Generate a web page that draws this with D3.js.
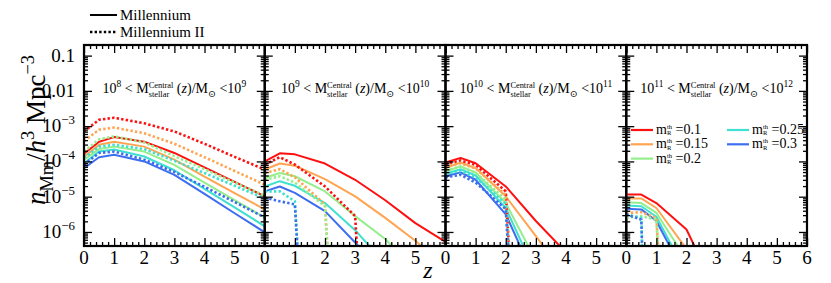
<!DOCTYPE html>
<html>
<head>
<meta charset="utf-8">
<script src="https://cdn.jsdelivr.net/npm/d3@7"></script>
<style>
  body { margin: 0; background: #fff; }
  text { font-family: "Liberation Serif", "DejaVu Serif", serif; fill: #000; white-space: pre; }
</style>
</head>
<body>
<svg width="831" height="283"></svg>
<script>
// redshift grid of the curves
const zGrid = [0, 0.5, 1, 2, 3, 4, 5, 6];
const thresholds = ["0.1", "0.15", "0.2", "0.25", "0.3"];
const colors = ["#ff1010", "#ffa552", "#94ee8c", "#3fe0d0", "#3d6ef0"];
const massBins = [[8, 9], [9, 10], [10, 11], [11, 12]];

// log10 of n, Millennium (solid), rows follow thresholds
const msLog = [
  [ // 1e8 - 1e9
    [-3.78, -3.44, -3.31, -3.44, -3.76, -4.17, -4.58, -4.99],
    [-3.87, -3.53, -3.44, -3.58, -3.95, -4.43, -4.90, -5.36],
    [-3.95, -3.65, -3.58, -3.72, -4.10, -4.60, -5.10, -5.59],
    [-4.05, -3.72, -3.66, -3.86, -4.25, -4.78, -5.30, -5.84],
    [-4.19, -3.88, -3.81, -4.00, -4.38, -4.92, -5.47, -6.01]
  ],
  [ // 1e9 - 1e10
    [-4.00, -3.77, -3.80, -4.06, -4.52, -5.10, -5.75, -6.28],
    [-4.23, -4.06, -4.12, -4.50, -4.99, -5.60, -6.25, -7.00],
    [-4.47, -4.33, -4.42, -4.85, -5.55, -6.20, -7.10, -7.90],
    [-4.71, -4.56, -4.69, -5.18, -5.95, -6.90, -7.60],
    [-4.85, -4.71, -4.89, -5.41, -6.30, -7.20]
  ],
  [ // 1e10 - 1e11
    [-4.03, -3.90, -4.05, -4.71, -5.69, -6.58, -7.50],
    [-4.19, -4.03, -4.19, -4.99, -6.12, -7.25],
    [-4.28, -4.14, -4.31, -5.18, -6.81, -8.00],
    [-4.35, -4.22, -4.40, -5.32, -7.18],
    [-4.42, -4.31, -4.52, -5.50, -7.38]
  ],
  [ // 1e11 - 1e12
    [-4.94, -4.94, -5.18, -5.93, -7.70],
    [-5.05, -5.05, -5.32, -6.48, -7.80],
    [-5.16, -5.18, -5.46, -6.78],
    [-5.25, -5.27, -5.57, -7.17],
    [-5.34, -5.36, -5.69, -7.30]
  ]
];

// log10 of n, Millennium II (dotted); null = no pairs left
const ms2Log = [
  [
    [-3.15, -2.82, -2.76, -2.92, -3.15, -3.50, -3.87, -4.23],
    [-3.42, -3.10, -3.04, -3.20, -3.50, -3.88, -4.27, -4.66],
    [-3.72, -3.37, -3.29, -3.46, -3.85, -4.22, -4.60, -4.97],
    [-3.90, -3.58, -3.53, -3.65, -3.98, -4.33, -4.69, -5.05],
    [-4.09, -3.76, -3.72, -3.95, -4.30, -4.72, -5.15, -5.59]
  ],
  [
    [-4.09, -3.88, -4.09, -4.71, -5.55, null],
    [-4.33, -4.22, -4.45, -5.22, null],
    [-4.52, -4.42, -4.60, -5.27, null],
    [-4.85, -4.85, -5.13, null],
    [-5.03, -5.13, -5.22, null]
  ],
  [
    [-4.08, -3.97, -4.10, -4.85, null],
    [-4.15, -4.05, -4.20, -4.95, null],
    [-4.25, -4.15, -4.32, -5.08, null],
    [-4.35, -4.27, -4.45, -5.20, null],
    [-4.45, -4.38, -4.60, -5.35, null]
  ],
  [
    [],
    [-5.46, -5.44, -5.60, null],
    [-5.60, -5.55, -5.65, null],
    [-5.50, -5.60, null],
    [-5.50, -5.65, null]
  ]
];

const yMajor = [0.1, 0.01, 1e-3, 1e-4, 1e-5, 1e-6];
const yMajorLabels = [["0.1"], ["0.01"], ["10", "−3"], ["10", "−4"], ["10", "−5"], ["10", "−6"]];
const xMajor = [0, 1, 2, 3, 4, 5, 6];
const xLabelMax = [5, 5, 5, 6];

const svg = d3.select("svg");
const plotTop = 45, plotBottom = 246, plotLeft = 84, plotRight = 807;
const pw = (plotRight - plotLeft) / 4;

const y = d3.scaleLog().domain([4e-7, 0.2]).range([plotBottom, plotTop]);
const yMinor = [];
for (let k = -7; k <= -1; k++) for (let m = 2; m <= 9; m++) {
  const v = m * Math.pow(10, k);
  if (v > 4e-7 && v < 0.2) yMinor.push(v);
}
const xMinor = d3.range(0, 6.001, 0.2).filter(v => Math.abs(v - Math.round(v)) > 1e-6);

// text with super/subscripts, laid out piece by piece
function rich(g, x, yy, parts, size, anchor, rot, st) {
  st = st || { fs: 0.6, up: 0.36, dn: 0.32 };
  const outer = g.append("g").attr("transform", `translate(${x},${yy}) rotate(${rot || 0})`);
  const t = outer.append("g");
  let cx = 0;
  parts.forEach(p => {
    if (p.stack) {
      const a = t.append("text").attr("x", cx).attr("y", -size * st.up).attr("font-size", size * st.fs).text(p.stack[0]);
      const b = t.append("text").attr("x", cx).attr("y", size * st.dn).attr("font-size", size * st.fs).text(p.stack[1]);
      cx += Math.max(a.node().getComputedTextLength(), b.node().getComputedTextLength());
    } else {
      const dy = p.s === "sup" ? -size * 0.42 : p.s === "sub" ? size * 0.28 : 0;
      const fs = p.s ? size * 0.68 : size;
      const el = t.append("text").attr("x", cx).attr("y", dy).attr("font-size", fs)
        .attr("font-style", p.it ? "italic" : null).text(p.t);
      cx += el.node().getComputedTextLength();
    }
  });
  const off = anchor === "middle" ? -cx / 2 : anchor === "end" ? -cx : 0;
  t.attr("transform", `translate(${off},0)`);
  return outer;
}

const line = d3.line()
  .x(d => d.xs(d.z))
  .y(d => y(d.v === null ? 1e-20 : Math.pow(10, d.v)));

massBins.forEach((bin, p) => {
  const x0 = plotLeft + p * pw;
  const x = d3.scaleLinear().domain([0, 6]).range([x0, x0 + pw]);
  const g = svg.append("g");

  g.append("clipPath").attr("id", "clip" + p)
    .append("rect").attr("x", x0).attr("y", plotTop).attr("width", pw).attr("height", plotBottom - plotTop);

  const curves = g.append("g").attr("clip-path", `url(#clip${p})`);
  const toPts = vals => vals.map((v, i) => ({ z: zGrid[i], v: v, xs: x }));

  msLog[p].forEach((vals, i) => {
    curves.append("path").attr("d", line(toPts(vals)))
      .attr("fill", "none").attr("stroke", colors[i]).attr("stroke-width", 2)
      .attr("stroke-linejoin", "round");
  });
  ms2Log[p].forEach((vals, i) => {
    if (vals.length < 2) return;
    curves.append("path").attr("d", line(toPts(vals)))
      .attr("fill", "none").attr("stroke", colors[i]).attr("stroke-width", 2.6)
      .attr("stroke-dasharray", "2.4,2.2");
  });

  // tick marks, all pointing inwards
  const axes = [
    [d3.axisBottom(x).tickValues(xMajor).tickSize(-8), `translate(0,${plotBottom})`],
    [d3.axisBottom(x).tickValues(xMinor).tickSize(-4), `translate(0,${plotBottom})`],
    [d3.axisTop(x).tickValues(xMajor).tickSize(-8), `translate(0,${plotTop})`],
    [d3.axisTop(x).tickValues(xMinor).tickSize(-4), `translate(0,${plotTop})`],
    [d3.axisLeft(y).tickValues(yMajor).tickSize(-8), `translate(${x0},0)`],
    [d3.axisLeft(y).tickValues(yMinor).tickSize(-4), `translate(${x0},0)`],
    [d3.axisRight(y).tickValues(yMajor).tickSize(-8), `translate(${x0 + pw},0)`],
    [d3.axisRight(y).tickValues(yMinor).tickSize(-4), `translate(${x0 + pw},0)`]
  ];
  axes.forEach(([ax, tr]) => {
    const a = g.append("g").attr("transform", tr).call(ax.tickFormat("").tickSizeOuter(0));
    a.select(".domain").remove();
    a.selectAll("line").attr("stroke", "#000").attr("stroke-width", 1.3);
  });

  g.append("rect").attr("x", x0).attr("y", plotTop).attr("width", pw).attr("height", plotBottom - plotTop)
    .attr("fill", "none").attr("stroke", "#000").attr("stroke-width", 2.2);

  // x tick labels
  g.selectAll(".xl").data(xMajor.filter(v => v <= xLabelMax[p])).enter()
    .append("text").attr("x", d => x(d)).attr("y", 264)
    .attr("text-anchor", "middle").attr("font-size", 19).text(d => d);

  // panel title
  rich(g, x0 + pw / 2, 93, [
    { t: "10" }, { t: String(bin[0]), s: "sup" }, { t: " < M" },
    { stack: ["Central", "stellar"] }, { t: " (" }, { t: "z", it: true }, { t: ")/M" },
    { t: "⊙", s: "sub" }, { t: " <10" }, { t: String(bin[1]), s: "sup" }
  ], 14, "middle");
});

// y tick labels on the first panel
yMajor.forEach((v, i) => {
  const lab = yMajorLabels[i];
  const parts = lab.length === 1 ? [{ t: lab[0] }] : [{ t: lab[0] }, { t: lab[1], s: "sup" }];
  rich(svg, 75, y(v) + 6, parts, 19, "end");
});

// axis titles
rich(svg, 45, 130, [
  { t: "n", it: true }, { t: "Mm", s: "sub" }, { t: "/" }, { t: "h", it: true },
  { t: "3", s: "sup" }, { t: " Mpc" }, { t: "−3", s: "sup" }
], 27, "middle", -90);
rich(svg, 428, 278, [{ t: "z", it: true }], 24, "middle");

// simulation legend
const simLegend = [["Millennium", null], ["Millennium II", "2.4,2.2"]];
simLegend.forEach(([name, dash], i) => {
  const yy = 15 + i * 17;
  svg.append("line").attr("x1", 90).attr("x2", 117).attr("y1", yy).attr("y2", yy)
    .attr("stroke", "#000").attr("stroke-width", dash ? 2.4 : 2).attr("stroke-dasharray", dash);
  svg.append("text").attr("x", 120).attr("y", yy + 5).attr("font-size", 15).text(name);
});

// threshold legend in the last panel
thresholds.forEach((th, i) => {
  const col = i < 3 ? 0 : 1, row = i < 3 ? i : i - 3;
  const lx = 631 + col * 96, ly = 130 + row * 14.3;
  svg.append("line").attr("x1", lx).attr("x2", lx + 22).attr("y1", ly).attr("y2", ly)
    .attr("stroke", colors[i]).attr("stroke-width", 2.2);
  rich(svg, lx + 25, ly + 4, [{ t: "m" }, { stack: ["th", "R"] }, { t: " =" + th }], 14, "start",
    0, { fs: 0.47, up: 0.36, dn: 0.1 });
});
</script>
</body>
</html>
